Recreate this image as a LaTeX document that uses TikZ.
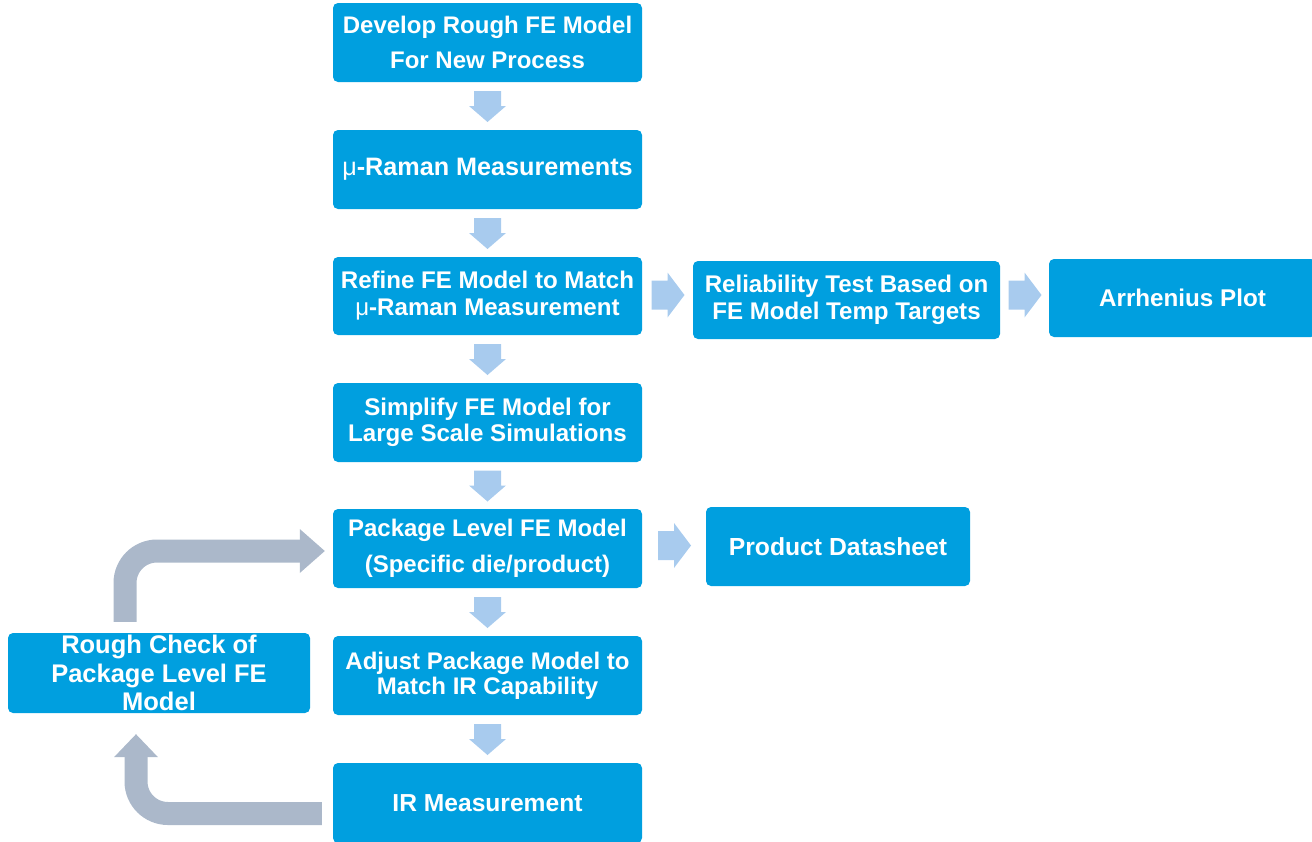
\documentclass[tikz,border=0pt]{standalone}
\usepackage{fontspec}
\setmainfont{Liberation Sans}
\usetikzlibrary{calc}

\definecolor{boxblue}{RGB}{0,159,223}
\definecolor{flowblue}{RGB}{168,203,238}
\definecolor{loopgray}{RGB}{171,184,202}

% thin upright micro sign inside bold labels
\newcommand\micro{{\mdseries μ}}

% vertical block arrow between two stacked nodes
\newcommand\vflow[2]{%
  \path (#1.south) -- (#2.north) coordinate[pos=.5] (vm);
  \begin{scope}[shift={(vm)}]
    \fill[flowblue] (-13.5,-15) -- (13.5,-15) -- (13.5,0) -- (18.5,0)
      -- (0,16) -- (-18.5,0) -- (-13.5,0) -- cycle;
  \end{scope}}

% horizontal block arrow between two side-by-side nodes, optional vertical shift
\newcommand\hflow[3][0]{%
  \path (#2.east) -- (#3.west) coordinate[pos=.5] (hm);
  \begin{scope}[shift={($(hm)+(0,#1)$)}]
    \fill[flowblue] (-16,-14.5) -- (0,-14.5) -- (0,-22.5) -- (17,0)
      -- (0,22.5) -- (0,14.5) -- (-16,14.5) -- cycle;
  \end{scope}}

\begin{document}
\begin{tikzpicture}[x=1pt,y=-1pt,
  box/.style={fill=boxblue, rounded corners=5pt, text=white, align=center,
    inner sep=0pt, font=\fontsize{24}{26}\selectfont\bfseries},
  loop/.style={draw=loopgray, line width=23pt, line cap=butt}]
\useasboundingbox (0,0) rectangle (1312,841);

% main column
\node[box, minimum width=309pt, minimum height=79pt,
  font=\fontsize{24}{35}\selectfont\bfseries] (b1) at (487.5,42.5)
  {Develop Rough FE Model\\For New Process};
\node[box, minimum width=309pt, minimum height=79pt,
  font=\fontsize{25.2}{27}\selectfont\bfseries] (b2) at (487.5,169.5)
  {\micro-Raman Measurements};
\node[box, minimum width=309pt, minimum height=78pt,
  font=\fontsize{24.1}{27}\selectfont\bfseries] (b3) at (487.5,296)
  {Refine FE Model to Match\\\micro-Raman Measurement};
\node[box, minimum width=309pt, minimum height=79pt,
  font=\fontsize{24.1}{26}\selectfont\bfseries] (b4) at (487.5,422.5)
  {Simplify FE Model for\\Large Scale Simulations};
\node[box, minimum width=309pt, minimum height=79pt,
  font=\fontsize{24}{35.5}\selectfont\bfseries] (b5) at (487.5,548.5)
  {Package Level FE Model\\(Specific die/product)};
\node[box, minimum width=309pt, minimum height=79pt,
  font=\fontsize{24}{25}\selectfont\bfseries] (b6) at (487.5,675.5)
  {Adjust Package Model to\\Match IR Capability};
\node[box, minimum width=309pt, minimum height=80pt,
  font=\fontsize{24.6}{26}\selectfont\bfseries] (b7) at (487.5,803)
  {IR Measurement};

% side branches
\node[box, minimum width=307pt, minimum height=78pt,
  font=\fontsize{24.1}{27}\selectfont\bfseries] (rel) at (846.5,300)
  {Reliability Test Based on\\FE Model Temp Targets};
\node[box, minimum width=267pt, minimum height=78pt,
  font=\fontsize{24.2}{26}\selectfont\bfseries] (arr) at (1182.5,298)
  {Arrhenius Plot};
\node[box, minimum width=264pt, minimum height=79pt,
  font=\fontsize{24.7}{26}\selectfont\bfseries] (ds) at (838,546.5)
  {Product Datasheet};
\node[box, minimum width=302pt, minimum height=80pt,
  font=\fontsize{25.5}{28.5}\selectfont\bfseries] (rough) at (159,673)
  {Rough Check of\\Package Level FE\\Model};

% main flow
\vflow{b1}{b2}
\vflow{b2}{b3}
\vflow{b3}{b4}
\vflow{b4}{b5}
\vflow{b5}{b6}
\vflow{b6}{b7}

% branches to the right
\hflow[-3]{b3}{rel}
\hflow[-4]{rel}{arr}
\hflow[-2]{b5}{ds}

% feedback loop through the rough check
\draw[loop, rounded corners=32pt] ($(rough.north)+(-34,-11)$) |- ($(b5.west)+(-32,2.5)$);
\fill[loopgray] ($(b5.west)+(-33,-19.5)$) -- ($(b5.west)+(-8,2.5)$)
  -- ($(b5.west)+(-33,24.5)$) -- cycle;

\draw[loop, rounded corners=32pt] ($(b7.west)+(-11,10.5)$) -| ($(rough.south)+(-23,43)$);
\fill[loopgray] ($(rough.south)+(-45,44)$) -- ($(rough.south)+(-23,21)$)
  -- ($(rough.south)+(-1,44)$) -- cycle;
\end{tikzpicture}
\end{document}
